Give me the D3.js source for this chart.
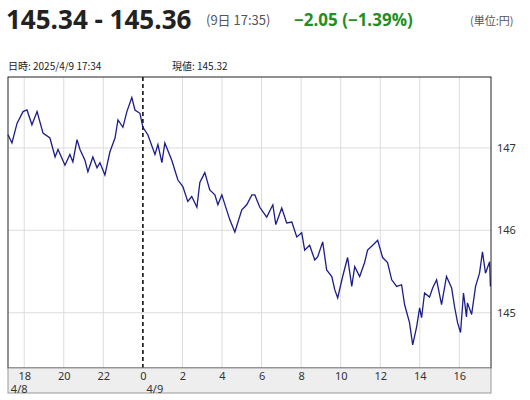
<!DOCTYPE html>
<html><head><meta charset="utf-8">
<script src="https://cdn.jsdelivr.net/npm/d3@7/dist/d3.min.js"></script>
<style>body{margin:0;background:#fff;font-family:"Noto Sans CJK JP","Noto Sans",sans-serif}</style>
</head><body><svg id="c" width="530" height="400"></svg>
<script>
// hours relative to 4/9 00:00
const hours=[-6.82,-6.62,-6.36,-6.06,-5.86,-5.61,-5.35,-5.05,-4.70,-4.44,-4.29,-3.94,-3.69,-3.54,-3.33,-3.18,-2.93,-2.78,-2.53,-2.32,-2.17,-1.92,-1.67,-1.41,-1.26,-1.01,-0.81,-0.56,-0.40,-0.15,0,0.25,0.61,0.76,0.96,1.11,1.46,1.77,2.02,2.27,2.47,2.73,2.88,3.13,3.38,3.64,3.79,3.99,4.39,4.65,5.00,5.25,5.51,5.66,5.91,6.26,6.57,6.72,7.02,7.27,7.53,7.78,8.03,8.18,8.43,8.69,8.84,9.09,9.29,9.55,9.70,9.85,10.10,10.35,10.56,10.71,10.96,11.21,11.36,11.62,11.87,12.12,12.37,12.58,12.83,13.08,13.23,13.48,13.64,13.84,13.99,14.09,14.24,14.49,14.65,14.85,15.10,15.35,15.61,15.76,15.91,16.06,16.21,16.36,16.41,16.62,16.82,17.02,17.17,17.32,17.53,17.57];
const prices=[147.16,147.06,147.30,147.44,147.46,147.28,147.44,147.18,147.12,146.89,146.98,146.79,146.92,146.83,147.10,146.98,146.85,146.71,146.89,146.76,146.82,146.67,146.95,147.12,147.34,147.25,147.44,147.61,147.46,147.42,147.25,147.16,146.92,147.04,146.82,147.06,146.85,146.61,146.53,146.35,146.41,146.28,146.58,146.70,146.49,146.43,146.31,146.43,146.13,145.98,146.25,146.31,146.43,146.43,146.28,146.16,146.31,146.07,146.27,146.09,146.10,145.92,145.97,145.76,145.82,145.64,145.68,145.86,145.52,145.44,145.28,145.18,145.44,145.67,145.32,145.56,145.44,145.61,145.76,145.82,145.88,145.67,145.61,145.40,145.32,145.34,145.10,144.88,144.61,144.83,145.06,144.94,145.24,145.19,145.30,145.40,145.10,145.44,145.30,145.07,144.88,144.76,145.24,144.95,145.12,144.98,145.32,145.48,145.74,145.48,145.62,145.32];
const xTickHours=[-6,-4,-2,0,2,4,6,8,10,12,14,16];
const xTickLabels=["18","20","22","0","2","4","6","8","10","12","14","16"];
const dateLabels=[{h:-6,t:"4/8",dx:-5},{h:0,t:"4/9",dx:12}];
const yTicks=[145,146,147];

const svg=d3.select("#c");
const L=8,R=491,T=77,B=368;
const x=d3.scaleLinear().domain([-6.82,17.6]).range([L,R]);
const y=d3.scaleLinear().domain([144.33,147.86]).range([B,T]);

// header
svg.append("text").attr("x",6).attr("y",29).attr("font-size",26).attr("font-weight","bold").attr("fill","#222").attr("font-family","'Open Sans','Noto Sans',sans-serif").text("145.34 - 145.36");
svg.append("text").attr("x",206).attr("y",25).attr("font-size",13).attr("fill","#555").text("(9日 17:35)");
svg.append("text").attr("x",294).attr("y",26).attr("font-size",17).attr("font-weight","bold").attr("fill","#1f8f1f").attr("font-family","'Open Sans','Noto Sans',sans-serif").text("−2.05 (−1.39%)");
svg.append("text").attr("x",470).attr("y",25).attr("font-size",11).attr("fill","#555").text("(単位:円)");
svg.append("text").attr("x",8).attr("y",70).attr("font-size",10).attr("fill","#222").text("日時: 2025/4/9  17:34");
svg.append("text").attr("x",172).attr("y",70).attr("font-size",10).attr("fill","#222").text("現値: 145.32");

// grid
svg.append("g").selectAll("line").data(xTickHours.filter(h=>h!==0)).join("line")
 .attr("x1",d=>x(d)).attr("x2",d=>x(d)).attr("y1",T).attr("y2",B).attr("stroke","#dcdcdc");
svg.append("g").selectAll("line").data(yTicks).join("line")
 .attr("x1",L).attr("x2",R).attr("y1",d=>y(d)).attr("y2",d=>y(d)).attr("stroke","#dcdcdc");
svg.append("line").attr("x1",x(0)).attr("x2",x(0)).attr("y1",T).attr("y2",B).attr("stroke","#000").attr("stroke-width",1.5).attr("stroke-dasharray","4,3");

// line
svg.append("path").datum(hours.map((h,i)=>[h,prices[i]]))
 .attr("d",d3.line().x(d=>x(d[0])).y(d=>y(d[1])))
 .attr("fill","none").attr("stroke","#1c1c8a").attr("stroke-width",1.3);

// frame
svg.append("rect").attr("x",L).attr("y",T).attr("width",R-L).attr("height",B-T).attr("fill","none").attr("stroke","#222");
// x axis band
svg.append("rect").attr("x",L).attr("y",B).attr("width",R-L).attr("height",25).attr("fill","#eeeeee").attr("stroke","#999");
const xa=svg.append("g").attr("transform",`translate(0,${B})`).call(d3.axisBottom(x).tickValues(xTickHours).tickFormat((d,i)=>xTickLabels[i]).tickSize(0).tickPadding(4));
xa.select(".domain").remove();
xa.selectAll("text").attr("font-size",11).attr("fill","#333").attr("font-family","'Noto Sans',sans-serif");
svg.append("g").selectAll("text").data(dateLabels).join("text").attr("x",d=>x(d.h)+d.dx).attr("y",393).attr("text-anchor","middle").attr("font-size",11).attr("fill","#333").attr("font-family","'Noto Sans',sans-serif").text(d=>d.t);

// y axis right
const ya=svg.append("g").attr("transform",`translate(${R},0)`).call(d3.axisRight(y).tickValues(yTicks).tickFormat(d3.format("d")).tickSize(0).tickPadding(6));
ya.select(".domain").remove();
ya.selectAll("text").attr("font-size",11).attr("fill","#333").attr("font-family","'Noto Sans',sans-serif");
</script></body></html>
